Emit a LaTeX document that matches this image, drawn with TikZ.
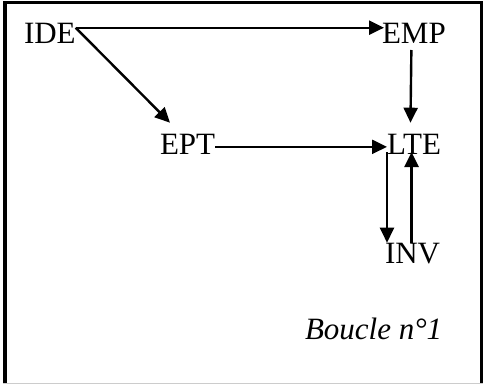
\documentclass[tikz,border=0pt]{standalone}
\usepackage{fontspec}
\setmainfont{Liberation Serif}
\usetikzlibrary{arrows.meta,calc}
\tikzset{
  lbl/.style={inner sep=0pt, outer sep=0pt, anchor=base west, font=\fontsize{31}{31}\selectfont},
  arr/.style={line width=2.4pt, -{Triangle[length=15pt,width=14pt]}}
}
\begin{document}
\begin{tikzpicture}[x=1pt,y=-1pt]
\useasboundingbox (0,0) rectangle (484,385);
% frame
\draw[line width=4pt] (4.5,1.5) -- (4.5,384);
\draw[line width=3pt] (3,3) -- (481.5,3) -- (481.5,384);
\draw[line width=1pt, gray!40] (3,383.5) -- (483,383.5);
% nodes
\node[lbl] (IDE) at (24,44) {IDE};
\node[lbl] (EMP) at (382,44) {EMP};
\node[lbl] (EPT) at (160,154) {EPT};
\node[lbl] (LTE) at (387,154) {LTE};
\node[lbl] (INV) at (385,263) {INV};
\node[lbl, font=\fontsize{31}{31}\selectfont\itshape] (B) at (305,339) {Boucle n°1};
% connectors
\draw[arr] ([yshift=-4pt]IDE.north east) -- ([xshift=2pt,yshift=-4pt]EMP.north west);
\draw[arr] ([yshift=-4pt]IDE.north east) -- ([shift={(10pt,11pt)}]EPT.north west);
\draw[arr] ($(EMP.south)+(-2.5pt,-6pt)$) -- ($(LTE.north)+(-3.5pt,11pt)$);
\draw[arr] ([yshift=-3pt]EPT.east) -- ([yshift=-3pt]LTE.west);
\draw[arr] ([yshift=2pt]LTE.south west) -- ([xshift=2pt]INV.north west);
\draw[arr] ([xshift=-1pt]INV.north) -- ($(INV.north |- LTE.south)+(-1pt,2pt)$);
\end{tikzpicture}
\end{document}
